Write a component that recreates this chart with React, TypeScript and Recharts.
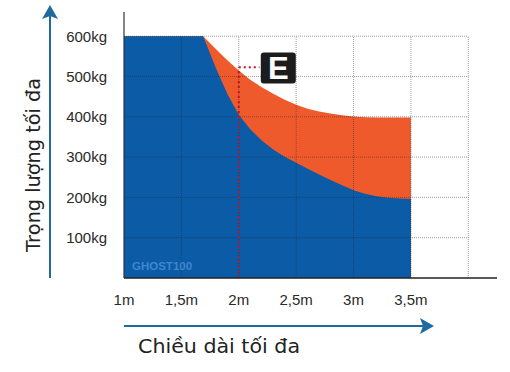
import React from 'react';
import { ComposedChart, Area, XAxis, YAxis, ReferenceLine, ReferenceDot } from 'recharts';

// chiều dài (m)
const lengths = [1.0, 1.69, 1.8, 1.9, 2.0, 2.1, 2.2, 2.3, 2.4, 2.5, 2.6, 2.7, 2.8, 2.9, 3.0, 3.1, 3.2, 3.3, 3.4, 3.5];
// tải trọng tối đa (kg) - vùng xanh
const blueLoad = [600, 600, 521, 457, 405, 369, 341, 319, 301, 286, 271, 257, 243, 230, 218, 209, 203, 199, 197, 196];
// tải trọng tối đa (kg) - vùng cam (E)
const orangeLoad = [600, 600, 568, 540, 515, 492, 473, 457, 442, 430, 420, 413, 408, 404, 401, 399, 398, 398, 398, 398];

const xTicks = [1, 1.5, 2, 2.5, 3, 3.5];
const xTickLabels = ['1m', '1,5m', '2m', '2,5m', '3m', '3,5m'];
const yTicks = [100, 200, 300, 400, 500, 600];
const yTickLabels = ['100kg', '200kg', '300kg', '400kg', '500kg', '600kg'];
const gridX = [1.5, 2, 2.5, 3, 3.5, 4];
const gridY = [100, 200, 300, 400, 500, 600];

const markerX = 2;
const markerY = 523;

const data = lengths.map((x, i) => ({ x, blue: blueLoad[i], orange: orangeLoad[i] }));

const BLUE = '#0b5ba7';
const ORANGE = '#ee5a2b';
const ARROW = '#1f6aa0';
const TICK = { fontFamily: '"Liberation Sans", Arial, sans-serif', fontSize: 15, fill: '#2a2a2a' };

const EBox = (props: any) => {
  const { cx, cy } = props;
  return (
    <g>
      <rect x={cx - 17} y={cy - 15} width={35} height={31} rx={3} fill="#1c1c1c" />
      <text
        x={cx + 0.5}
        y={cy + 11}
        textAnchor="middle"
        fill="#fff"
        fontFamily='"Liberation Sans", Arial, sans-serif'
        fontWeight="bold"
        fontSize={31}
      >
        E
      </text>
    </g>
  );
};

export default function App() {
  return (
    <div style={{ position: 'absolute', left: 0, top: 0, width: 510, height: 372, background: '#fff' }}>
      <ComposedChart width={510} height={372} data={data} margin={{ top: 12, right: 13, bottom: 0, left: 0 }}>
        <XAxis
          dataKey="x"
          type="number"
          domain={[1, 4.25]}
          ticks={xTicks}
          tickFormatter={(v: number) => xTickLabels[xTicks.indexOf(v)]}
          height={94}
          tickSize={0}
          tickMargin={16}
          tick={TICK}
          axisLine={{ stroke: '#222', strokeWidth: 1.5 }}
          allowDataOverflow
        />
        <YAxis
          type="number"
          domain={[0, 660]}
          ticks={yTicks}
          tickFormatter={(v: number) => yTickLabels[yTicks.indexOf(v)]}
          width={124}
          tickSize={0}
          tickMargin={17}
          tick={TICK}
          axisLine={{ stroke: '#333', strokeWidth: 1.2 }}
          allowDataOverflow
        />
        <Area type="linear" dataKey="orange" stroke="none" fill={ORANGE} fillOpacity={1} isAnimationActive={false} />
        <Area type="linear" dataKey="blue" stroke="none" fill={BLUE} fillOpacity={1} isAnimationActive={false} />
        {gridY.map((y) => (
          <ReferenceLine
            key={'gy' + y}
            segment={[{ x: 1, y }, { x: 4, y }]}
            stroke="rgba(40,40,40,0.45)"
            strokeDasharray="1 1"
          />
        ))}
        {gridX.map((x) => (
          <ReferenceLine
            key={'gx' + x}
            segment={[{ x, y: 0 }, { x, y: 600 }]}
            stroke="rgba(40,40,40,0.45)"
            strokeDasharray="1 1"
          />
        ))}
        <ReferenceLine
          segment={[{ x: markerX, y: 0 }, { x: markerX, y: markerY }]}
          stroke="#c4122f"
          strokeWidth={2}
          strokeDasharray="2 3"
        />
        <ReferenceLine
          segment={[{ x: markerX, y: markerY }, { x: 2.18, y: markerY }]}
          stroke="#c4122f"
          strokeWidth={2}
          strokeDasharray="2 3"
        />
        <ReferenceDot x={2.34} y={522} r={0} shape={EBox} />
      </ComposedChart>

      <svg width={510} height={372} style={{ position: 'absolute', left: 0, top: 0, pointerEvents: 'none' }}>
        {/* trục dọc */}
        <line x1={50} y1={278} x2={50} y2={14} stroke={ARROW} strokeWidth={2} />
        <polygon points="50,5 58,19 50,16 42,19" fill={ARROW} />
        {/* trục ngang */}
        <line x1={124} y1={326} x2={424} y2={326} stroke={ARROW} strokeWidth={2} />
        <polygon points="434,326 420,318 423,326 420,334" fill={ARROW} />
        <text
          x={33}
          y={165}
          transform="rotate(-90 33 165)"
          textAnchor="middle"
          dominantBaseline="central"
          fontFamily='"DejaVu Sans", sans-serif'
          fontSize={20}
          fill="#222"
          textLength={174}
          lengthAdjust="spacingAndGlyphs"
        >
          Trọng lượng tối đa
        </text>
        <text
          x={138}
          y={353}
          fontFamily='"DejaVu Sans", sans-serif'
          fontSize={20}
          fill="#222"
          textLength={162}
          lengthAdjust="spacingAndGlyphs"
        >
          Chiều dài tối đa
        </text>
        <text
          x={132}
          y={270}
          fontFamily='"Liberation Sans", Arial, sans-serif'
          fontWeight="bold"
          fontSize={11.5}
          fill="#3f86cf"
        >
          GHOST100
        </text>
      </svg>
    </div>
  );
}
